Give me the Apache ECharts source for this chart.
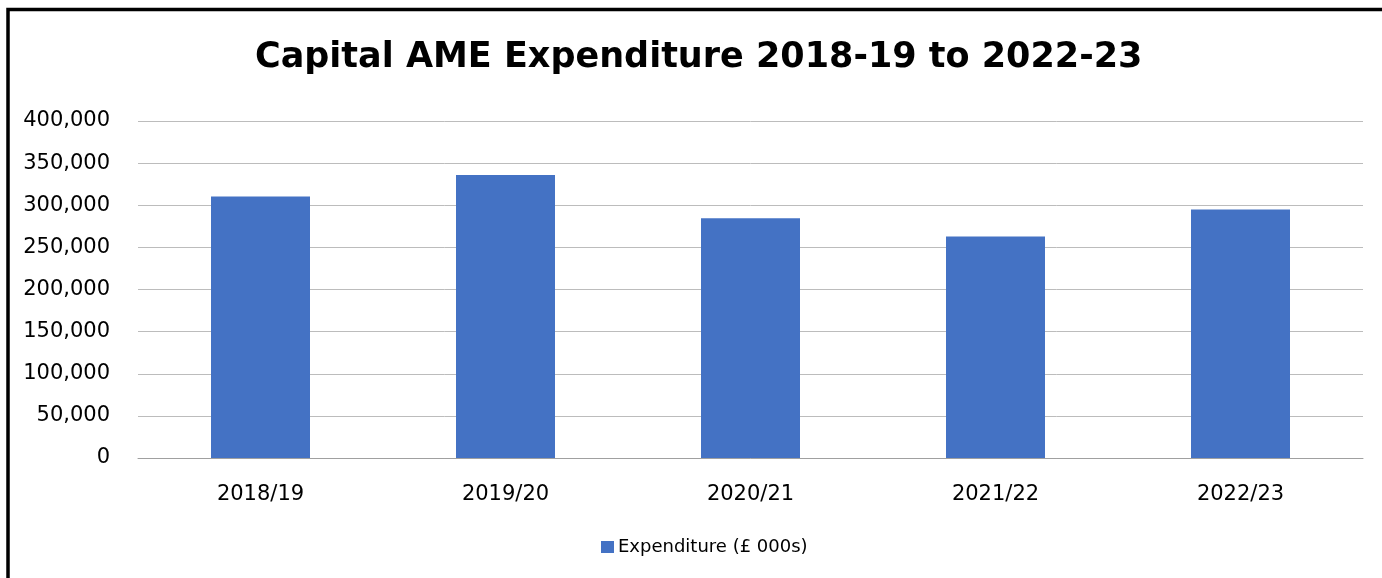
<!DOCTYPE html>
<html>
<head>
<meta charset="utf-8">
<script src="https://cdn.jsdelivr.net/npm/echarts@6/dist/echarts.min.js"></script>
<style>
html,body{margin:0;padding:0;background:#fff;}
#chart{width:1382px;height:578px;}
</style>
</head>
<body>
<div id="chart"></div>
<script>
const titleText = 'Capital AME Expenditure 2018-19 to 2022-23';
const categories = ['2018/19', '2019/20', '2020/21', '2021/22', '2022/23'];
const seriesName = 'Expenditure (£ 000s)';
const expenditure = [310500, 336000, 284500, 263000, 295000];
const yTicks = { min: 0, max: 400000, interval: 50000 };

const FONT = 'DejaVu Sans';
const chart = echarts.init(document.getElementById('chart'), null, { renderer: 'canvas' });
chart.setOption({
  backgroundColor: '#ffffff',
  animation: false,
  title: {
    text: titleText,
    left: 255,
    top: 40,
    padding: 0,
    textStyle: { fontFamily: FONT, fontSize: 35, fontWeight: 'bold', color: '#000' }
  },
  legend: {
    data: [seriesName],
    left: 601,
    top: 538,
    padding: 0,
    itemWidth: 13,
    itemHeight: 12,
    itemGap: 5,
    icon: 'rect',
    textStyle: { fontFamily: FONT, fontSize: 18, color: '#000', padding: [0, 0, 0, -1] }
  },
  grid: { left: 138, right: 19, top: 121, bottom: 120, containLabel: false },
  xAxis: {
    type: 'category',
    data: categories,
    axisLine: { show: true, lineStyle: { color: '#a0a0a0', width: 1 } },
    axisTick: { show: false },
    axisLabel: { fontFamily: FONT, fontSize: 21, color: '#000', margin: 26 }
  },
  yAxis: {
    type: 'value',
    min: yTicks.min,
    max: yTicks.max,
    interval: yTicks.interval,
    axisLine: { show: false },
    axisTick: { show: false },
    splitLine: { lineStyle: { color: '#bcbcbc', width: 1 } },
    axisLabel: {
      fontFamily: FONT, fontSize: 21, color: '#000', margin: 28,
      formatter: v => v.toLocaleString('en-GB')
    }
  },
  series: [{
    name: seriesName,
    type: 'bar',
    data: expenditure,
    barWidth: 99,
    itemStyle: { color: '#4472C4' }
  }],
  graphic: [{
    type: 'polyline',
    shape: { points: [[8, 578], [8, 9.5], [1382, 9.5]] },
    style: { stroke: '#000', lineWidth: 3.5, fill: null },
    silent: true
  }]
});
</script>
</body>
</html>
